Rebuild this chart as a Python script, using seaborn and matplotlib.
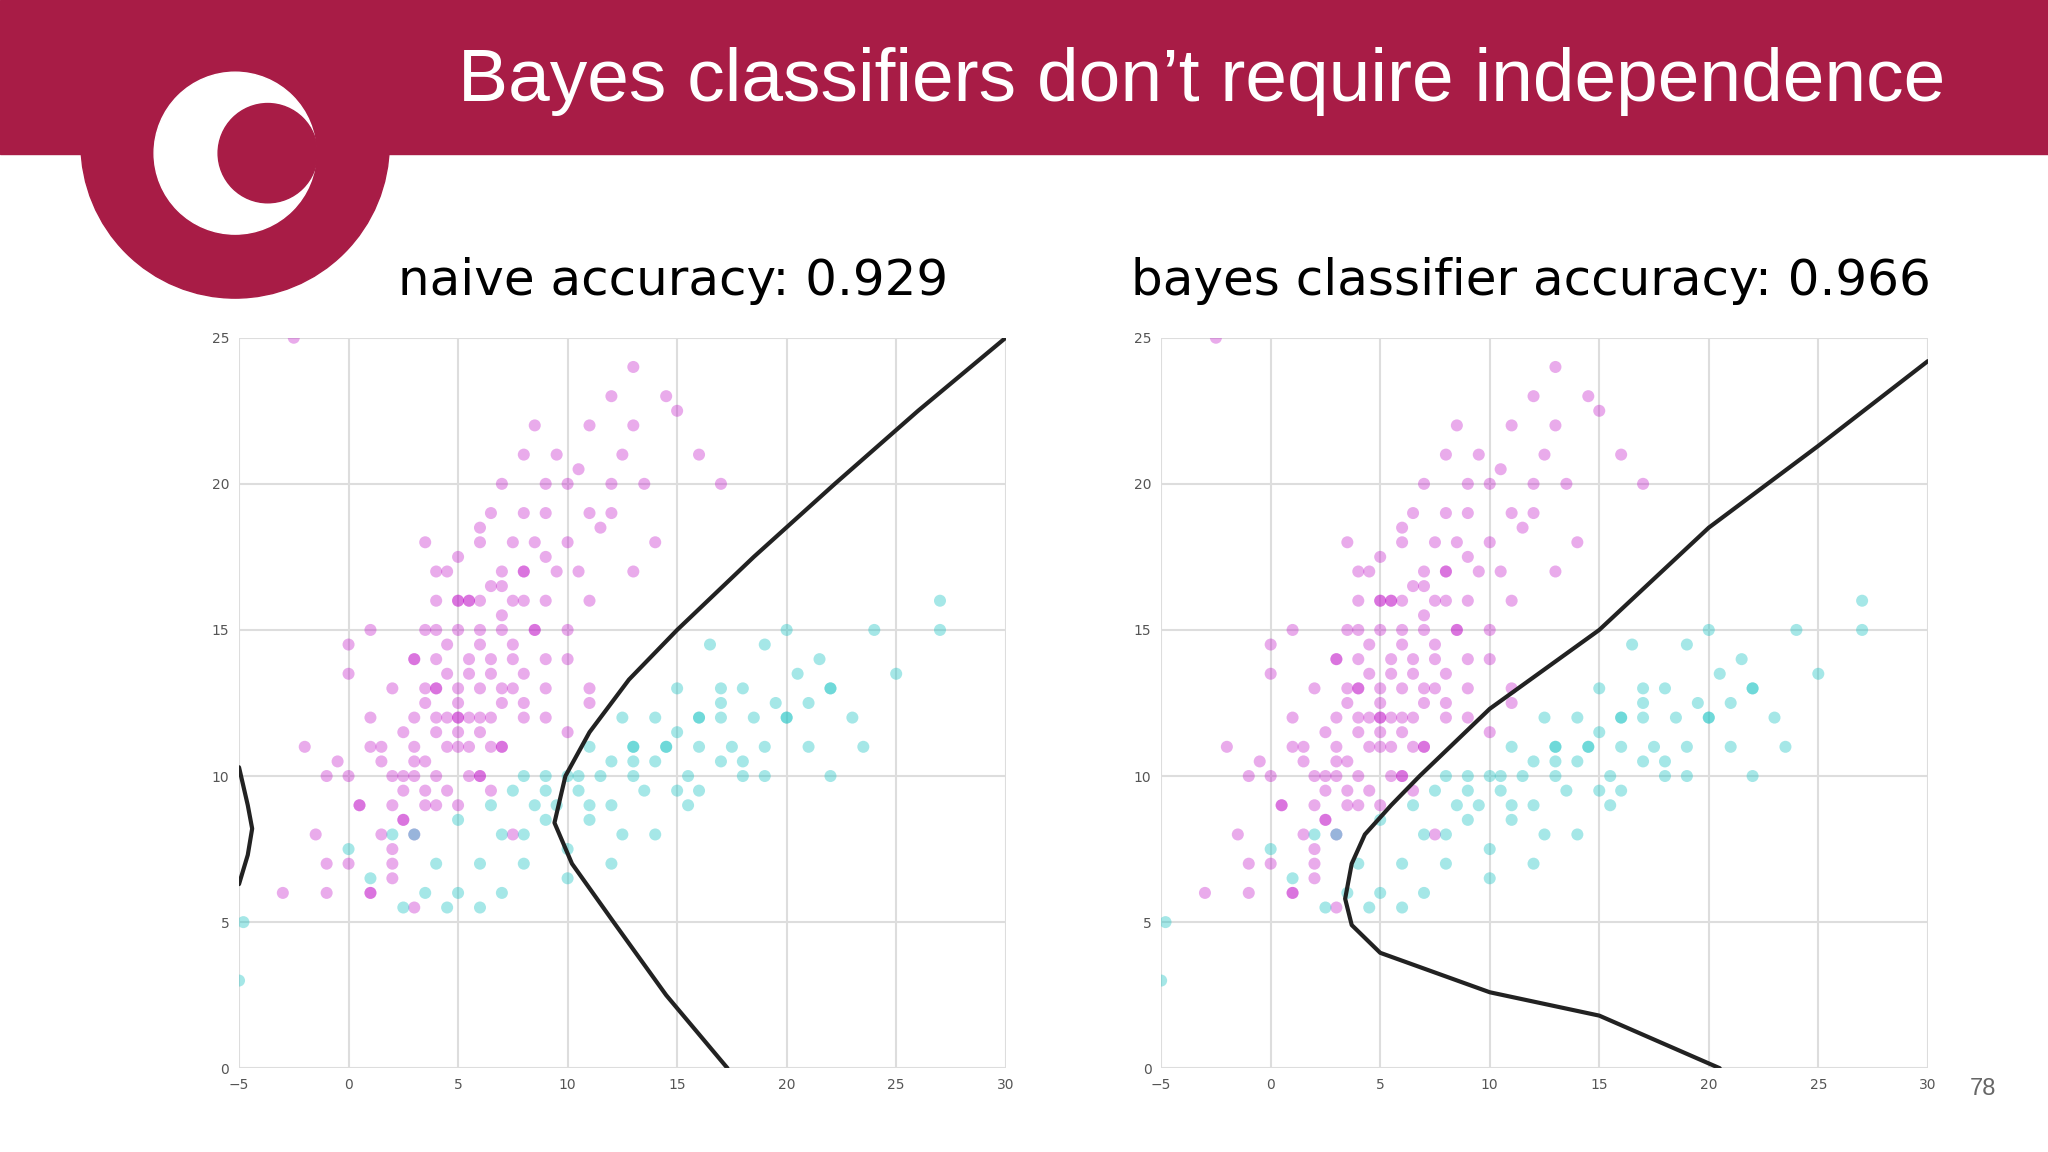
import matplotlib
matplotlib.use("Agg")
import matplotlib.pyplot as plt
import seaborn as sns
import pandas as pd
from matplotlib.patches import Circle, Rectangle

sns.set_style("whitegrid")
plt.rcParams['font.family'] = ['DejaVu Sans']

title = "Bayes classifiers don\u2019t require independence"
subtitles = ["naive accuracy: 0.929", "bayes classifier accuracy: 0.966"]
page = "78"
xticks = [-5, 0, 5, 10, 15, 20, 25, 30]
yticks = [0, 5, 10, 15, 20, 25]

mag_x = [-3,-2,-1.5,-1,-0.5,0,0,0.5,1,1,1.5,1.5,2,2,2,2.5,2.5,3,3,3,3,3.5,3.5,3.5,4,4,4,4,4.5,4.5,4.5,5,5,5,5,5,5.5,5.5,5.5,6,6,6,6,6,6.5,6.5,6.5,7,7,7,7,7,7.5,7.5,7.5,8,8,8,8,8.5,8.5,8.5,9,9,9,9,9.5,9.5,10,10,10,10.5,10.5,11,11,11,11.5,12,12,12.5,13,13,13.5,14,14.5,15,16,17,-2.5,-1,0.5,1,2,3,4,2,1,0,5,6,7,8,9,10,3,4,5,6,11,12,13,8,9,4,5,2.5,3.5,6.5,7.5,5.5,10,11,-1,0,1,
         3,3.5,4,4.5,5,5.5,6,6.5,7,7.5,2.5,3,4,5,6,7,8,4,5,6,7,8,9,3.5,4.5,5.5,6.5,7.5,8.5,2,1.5,2.5,3.5,4.5,5.5,6.5]
mag_y = [6,11,8,10,10.5,14.5,7,9,12,6,11,8,13,10,6.5,11.5,8.5,14,12,10,5.5,13,15,9,12,16,10,14,11,13.5,17,12,15,9,13,17.5,14,11,16,13,15,18,10,12,14,16.5,19,13,15,17,11,20,14,18,16,12.5,17,19,21,15,18,22,14,16,19,20,17,21,15,18,20,17,20.5,16,19,22,18.5,20,23,21,22,24,20,18,23,22.5,21,20,25,7,9,6,7.5,8,9,7,15,13.5,12,10,11,12,13,14,14,17,16,18.5,13,19,17,16,12,13,11.5,8.5,18,9.5,8,16,11.5,12.5,6,10,11,
         11,12.5,13,14.5,12.5,13.5,14.5,12,15.5,14.5,9.5,10.5,11.5,11,11.5,12.5,13.5,15,16,16,16.5,17,17.5,10.5,12,12,13.5,13,15,9,10.5,10,9.5,9.5,10,11]
cy_x = [-5,-4.8,0,1,2,3,4,5,5,6,6.5,7,7.5,8,8,8.5,9,9,9.5,10,10,10.5,11,11,11.5,12,12,12.5,13,13,13.5,14,14,14.5,15,15,15.5,16,16,16.5,17,17,17.5,18,18,18.5,19,19,19.5,20,20,20.5,21,21,21.5,22,22,23,23.5,24,25,27,27,10,12,14,16,18,9,11,13,15,17,19,6,7,8,3.5,2.5,4.5,12.5,15.5,20,22,13,16,17,10.5,14.5]
cy_y = [3,5,7.5,6.5,8,8,7,6,8.5,7,9,8,9.5,8,10,9,8.5,10,9,10,7.5,9.5,11,8.5,10,10.5,9,12,10,11,9.5,12,10.5,11,13,9.5,10,12,11,14.5,12.5,10.5,11,13,10,12,14.5,11,12.5,15,12,13.5,12.5,11,14,13,10,12,11,15,13.5,16,15,6.5,7,8,9.5,10.5,9.5,9,11,11.5,12,10,5.5,6,7,6,5.5,5.5,8,9,12,13,10.5,12,13,10,11]

mag = pd.DataFrame({"x": mag_x, "y": mag_y})
cy = pd.DataFrame({"x": cy_x, "y": cy_y})

b1_x = [17.3,14.5,12.1,10.2,9.4,9.9,11,12.8,15,18.5,22.2,26,30]
b1_y = [0,2.5,5,7,8.4,10,11.5,13.3,15,17.5,20,22.5,25]
b1s_x = [-5,-4.6,-4.4,-4.6,-5]
b1s_y = [10.3,9,8.2,7.3,6.3]
b2_x = [20.5,15,10,5,3.7,3.4,3.7,4.3,5.5,6.8,10,15,20,25,30]
b2_y = [0,1.8,2.6,3.95,4.9,5.8,7,8,9,10,12.3,15,18.5,21.3,24.2]

W, H = 20.48, 11.52
fig = plt.figure(figsize=(W, H), dpi=100)
crimson = "#a81c46"
def fx(px): return px / 1568 * W
def fy(py): return (1 - py / 880) * H
fig.patches.append(Rectangle((0, 1-118/880), 1, 118/880, transform=fig.transFigure, color=crimson, zorder=0))
fig.patches.append(Circle((fx(180), fy(110)), fx(118), transform=fig.dpi_scale_trans, color=crimson, zorder=0))
fig.patches.append(Circle((fx(180), fy(117)), fx(62), transform=fig.dpi_scale_trans, color="white", zorder=1))
fig.patches.append(Circle((fx(205), fy(117)), fx(38), transform=fig.dpi_scale_trans, color=crimson, zorder=2))
fig.text(920/1568, 1-62/880, title, ha="center", va="center", color="white", fontsize=54, family="Liberation Sans")
fig.text(1518/1568, 1-832/880, page, ha="center", va="center", color="#666666", fontsize=17, family="Liberation Sans")

for i, (x0, cx, sub, bx, by) in enumerate([(183, 515, subtitles[0], b1_x, b1_y), (889, 1172, subtitles[1], b2_x, b2_y)]):
    ax = fig.add_axes([x0/1568, 1-816/880, 587/1568, 558/880])
    sns.scatterplot(data=mag, x="x", y="y", color="#c010c8", alpha=0.35, s=75, edgecolor="none", ax=ax)
    sns.scatterplot(data=cy, x="x", y="y", color="#20c4c4", alpha=0.4, s=75, edgecolor="none", ax=ax)
    sns.lineplot(x=bx, y=by, sort=False, estimator=None, color="#222222", lw=3, ax=ax)
    if i == 0:
        sns.lineplot(x=b1s_x, y=b1s_y, sort=False, estimator=None, color="#222222", lw=3, ax=ax)
    ax.set_xlim(-5, 30); ax.set_ylim(0, 25)
    ax.set_xticks(xticks); ax.set_yticks(yticks)
    ax.tick_params(labelsize=10, colors="#555555")
    ax.set_xlabel(""); ax.set_ylabel("")
    ax.grid(color="#dddddd", lw=1.5)
    for s in ax.spines.values():
        s.set_visible(False)
    fig.text(cx/1568, 1-215/880, sub, ha="center", va="center", fontsize=36, color="black")

fig.savefig("out.png", dpi=100)
